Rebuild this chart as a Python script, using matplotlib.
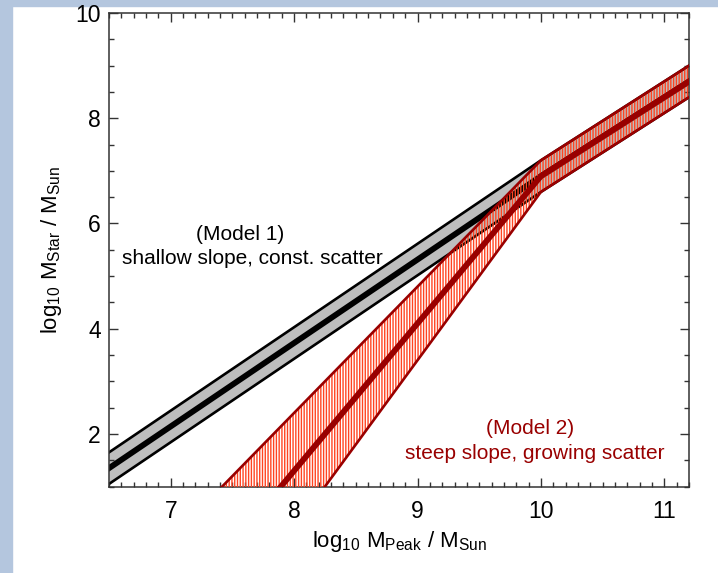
import numpy as np
import matplotlib
matplotlib.use("Agg")
import matplotlib.pyplot as plt
from matplotlib.patches import Rectangle
from matplotlib.ticker import MultipleLocator

plt.rcParams['font.family'] = ['Liberation Sans', 'DejaVu Sans']
plt.rcParams['mathtext.fontset'] = 'custom'
plt.rcParams['mathtext.rm'] = 'Liberation Sans'
plt.rcParams['mathtext.it'] = 'Liberation Sans'
plt.rcParams['mathtext.default'] = 'regular'
plt.rcParams['hatch.linewidth'] = 1.0

# Model 1: shallow slope, constant scatter (nodes in log10 M_peak)
m1_x = [6.5, 10.0, 11.2]
m1_mid = [1.35, 6.9, 8.7]
m1_lo = [1.05, 6.6, 8.4]
m1_hi = [1.65, 7.2, 9.0]

# Model 2: steep slope below 10, growing scatter
m2_x = [7.0, 10.0, 11.2]
m2_mid = [-1.5, 6.9, 8.7]
m2_lo = [-3.0, 6.6, 8.4]
m2_hi = [0.0, 7.2, 9.0]

dark_red = '#990000'

fig = plt.figure(figsize=(7.18, 5.73), dpi=100)
ax = fig.add_axes([0.1518, 0.1508, 0.8078, 0.8265])

# light blue frame strips (left and top)
fig.patches.append(Rectangle((0, 0), 12 / 718, 1, transform=fig.transFigure,
                             color='#b4c6de', zorder=-1))
fig.patches.append(Rectangle((0, 1 - 6 / 573), 1, 6 / 573, transform=fig.transFigure,
                             color='#b4c6de', zorder=-1))

# model 1
ax.fill_between(m1_x, m1_lo, m1_hi, color='#bebebe', linewidth=0, zorder=1)
ax.plot(m1_x, m1_hi, color='black', lw=1.9, zorder=2)
ax.plot(m1_x, m1_lo, color='black', lw=1.9, zorder=2)
ax.plot(m1_x, m1_mid, color='black', lw=4.2, zorder=2)

# model 2
ax.fill_between(m2_x, m2_lo, m2_hi, facecolor='none', edgecolor='#ff4422',
                hatch='||||||', linewidth=0, zorder=3)
ax.plot(m2_x, m2_hi, color=dark_red, lw=1.9, zorder=4)
ax.plot(m2_x, m2_lo, color=dark_red, lw=1.9, zorder=4)
ax.plot(m2_x, m2_mid, color=dark_red, lw=4.2, zorder=4)

ax.text(7.56, 5.8, '(Model 1)', fontsize=15, ha='center', va='center')
ax.text(7.66, 5.33, 'shallow slope, const. scatter', fontsize=15, ha='center', va='center')
ax.text(9.91, 2.11, '(Model 2)', fontsize=15, ha='center', va='center', color=dark_red)
ax.text(9.95, 1.63, 'steep slope, growing scatter', fontsize=15, ha='center', va='center',
        color=dark_red)

ax.set_xlim(6.5, 11.2)
ax.set_ylim(1, 10)
ax.xaxis.set_major_locator(MultipleLocator(1))
ax.xaxis.set_minor_locator(MultipleLocator(0.1))
ax.yaxis.set_major_locator(MultipleLocator(2))
ax.yaxis.set_minor_locator(MultipleLocator(0.5))
ax.tick_params(which='both', direction='in', top=True, right=True, color='#333333', width=1.0)
ax.tick_params(which='major', length=6.5, labelsize=16.5)
ax.tick_params(which='minor', length=3.6)
ax.tick_params(axis='x', which='major', pad=10)
ax.tick_params(axis='y', which='major', pad=6)
for s in ax.spines.values():
    s.set_color('#333333')
    s.set_linewidth(1.1)

ax.set_xlabel('log$_{10}$ M$_{Peak}$ / M$_{Sun}$', fontsize=16, labelpad=4)
ax.set_ylabel('log$_{10}$ M$_{Star}$ / M$_{Sun}$', fontsize=16, labelpad=8)

fig.savefig('out.png', dpi=100)
